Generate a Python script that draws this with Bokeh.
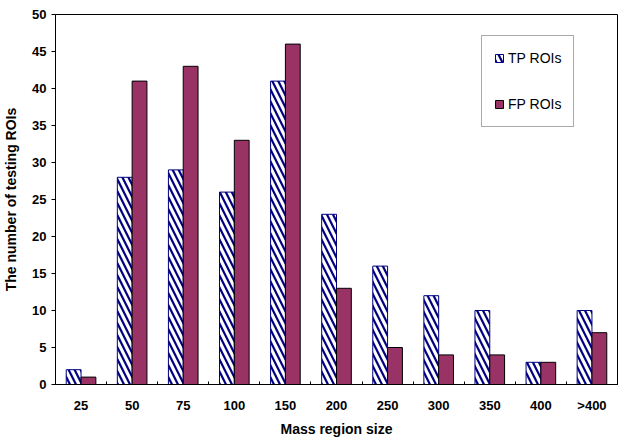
from bokeh.plotting import figure
from bokeh.models import ColumnDataSource, FixedTicker, Range1d, Legend, LegendItem
from bokeh.embed import file_html
from bokeh.resources import INLINE

categories = ["25", "50", "75", "100", "150", "200", "250", "300", "350", "400", ">400"]
tp_rois = [2, 28, 29, 26, 41, 23, 16, 12, 10, 3, 10]
fp_rois = [1, 41, 43, 33, 46, 13, 5, 4, 4, 3, 7]
y_ticks = list(range(0, 51, 5))

FONT = "Liberation Sans"
n = len(categories)
centers = [i + 0.5 for i in range(n)]
bw = 0.29
src = ColumnDataSource(dict(
    xtp=[c - bw / 2 for c in centers],
    xfp=[c + bw / 2 for c in centers],
    tp=tp_rois, fp=fp_rois))

p = figure(width=625, height=441, output_backend="svg", toolbar_location=None,
           x_range=Range1d(0, n), y_range=Range1d(0, 50),
           min_border_top=14, min_border_right=8, min_border_left=55, min_border_bottom=57)
p.background_fill_color = "white"
p.border_fill_color = "white"
p.outline_line_color = "black"
p.outline_line_width = 1
p.xgrid.visible = False
p.ygrid.visible = False

r_tp = p.vbar(x="xtp", top="tp", width=bw, bottom=0, source=src,
              fill_color="white", line_color="#000080", line_width=1,
              hatch_pattern="\\", hatch_color="#000080", hatch_weight=2.2, hatch_scale=12)
r_fp = p.vbar(x="xfp", top="fp", width=bw, bottom=0, source=src,
              fill_color="#993366", line_color="black", line_width=1)

# x axis
p.xaxis.ticker = FixedTicker(ticks=centers, minor_ticks=list(range(n + 1)))
p.xaxis.major_label_overrides = {c: lab for c, lab in zip(centers, categories)}
p.xaxis.major_tick_line_color = None
p.xaxis.major_tick_in = 0
p.xaxis.major_tick_out = 0
p.xaxis.minor_tick_in = 3
p.xaxis.minor_tick_out = 0
p.xaxis.minor_tick_line_color = "black"
p.xaxis.axis_line_color = "black"
p.xaxis.major_label_standoff = 13
p.xaxis.major_label_text_font = FONT
p.xaxis.major_label_text_font_style = "bold"
p.xaxis.major_label_text_font_size = "13px"
p.xaxis.major_label_text_color = "black"
p.xaxis.axis_label = "Mass region size"
p.xaxis.axis_label_text_font = FONT
p.xaxis.axis_label_text_font_style = "bold"
p.xaxis.axis_label_text_font_size = "14px"
p.xaxis.axis_label_text_color = "black"
p.xaxis.axis_label_standoff = 5

# y axis
p.yaxis.ticker = FixedTicker(ticks=y_ticks)
p.yaxis.minor_tick_line_color = None
p.yaxis.major_tick_in = 0
p.yaxis.major_tick_out = 4
p.yaxis.major_tick_line_color = "black"
p.yaxis.axis_line_color = "black"
p.yaxis.major_label_standoff = 5
p.yaxis.major_label_text_font = FONT
p.yaxis.major_label_text_font_style = "bold"
p.yaxis.major_label_text_font_size = "13px"
p.yaxis.major_label_text_color = "black"
p.yaxis.axis_label = "The number of testing ROIs"
p.yaxis.axis_label_text_font = FONT
p.yaxis.axis_label_text_font_style = "bold"
p.yaxis.axis_label_text_font_size = "14px"
p.yaxis.axis_label_text_color = "black"
p.yaxis.axis_label_standoff = 10

legend = Legend(items=[LegendItem(label="TP ROIs", renderers=[r_tp]),
                       LegendItem(label="FP ROIs", renderers=[r_fp])],
                location=(426, 257), orientation="vertical")
legend.border_line_color = "#555555"
legend.border_line_width = 1
legend.background_fill_color = "white"
legend.background_fill_alpha = 1
legend.label_text_font = FONT
legend.label_text_font_size = "14px"
legend.label_text_color = "black"
legend.glyph_width = 10
legend.glyph_height = 10
legend.label_standoff = 4
legend.padding = 12
legend.spacing = 26
legend.label_height = 20
legend.margin = 0
p.add_layout(legend)

open("out.html", "w").write(file_html(p, INLINE))
